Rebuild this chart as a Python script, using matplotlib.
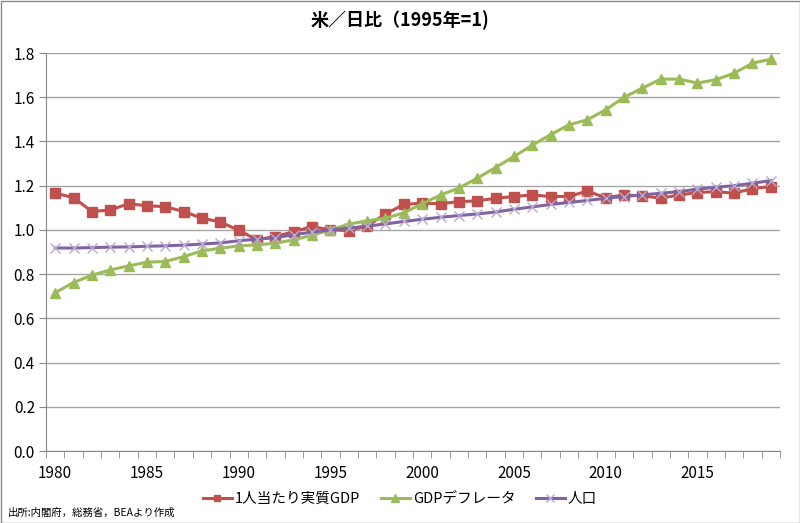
import matplotlib
matplotlib.use("Agg")
import matplotlib.pyplot as plt
from matplotlib.patches import Rectangle

plt.rcParams['font.family'] = ['Noto Sans CJK JP', 'DejaVu Sans']

years = list(range(1980, 2020))
gdp_pc = [1.166, 1.146, 1.083, 1.090, 1.118, 1.109, 1.105, 1.083, 1.053, 1.036,
          0.998, 0.955, 0.970, 0.992, 1.015, 1.000, 0.997, 1.018, 1.072, 1.115,
          1.121, 1.118, 1.128, 1.131, 1.143, 1.151, 1.158, 1.151, 1.151, 1.176,
          1.145, 1.158, 1.154, 1.143, 1.158, 1.169, 1.173, 1.166, 1.187, 1.196]
deflator = [0.716, 0.762, 0.795, 0.819, 0.837, 0.854, 0.857, 0.879, 0.905, 0.917,
            0.928, 0.932, 0.940, 0.955, 0.976, 1.000, 1.026, 1.041, 1.053, 1.077,
            1.118, 1.158, 1.189, 1.234, 1.282, 1.332, 1.383, 1.431, 1.475, 1.498,
            1.543, 1.600, 1.641, 1.682, 1.682, 1.664, 1.679, 1.709, 1.754, 1.772]
population = [0.918, 0.918, 0.920, 0.922, 0.923, 0.926, 0.928, 0.931, 0.936, 0.941,
              0.951, 0.958, 0.965, 0.978, 0.990, 1.000, 1.008, 1.017, 1.027, 1.038,
              1.048, 1.057, 1.065, 1.072, 1.081, 1.093, 1.104, 1.115, 1.124, 1.133,
              1.143, 1.151, 1.158, 1.166, 1.173, 1.184, 1.193, 1.200, 1.211, 1.223]
labels = ['1人当たり実質GDP', 'GDPデフレータ', '人口']
title = '米／日比（1995年=1)'
source = '出所:内閣府，総務省，BEAより作成'

fig = plt.figure(figsize=(8, 5.23), dpi=100)
ax = fig.add_axes([46/800, 1-451/523, (780-46)/800, (451-53)/523])

ax.plot(years, gdp_pc, color='#C0504D', lw=2.2, marker='s', ms=6.5,
        markerfacecolor='#C0504D', markeredgecolor='#C0504D', label=labels[0], zorder=3)
ax.plot(years, deflator, color='#9BBB59', lw=2.2, marker='^', ms=7.5,
        markerfacecolor='#9BBB59', markeredgecolor='#9BBB59', label=labels[1], zorder=3)
ax.plot(years, population, color='#8064A2', lw=2.2, marker='x', ms=7,
        markeredgecolor='#B9A8D0', markeredgewidth=1.0, label=labels[2], zorder=4)

ax.set_xlim(1979.5, 2019.5)
ax.set_ylim(0, 1.8)
ax.set_yticks([i * 0.2 for i in range(10)])
ax.set_yticklabels([f'{i*0.2:.1f}' for i in range(10)], fontsize=11)
ax.set_xticks([1980 + 5 * i for i in range(8)])
ax.set_xticklabels([str(1980 + 5 * i) for i in range(8)], fontsize=11)
ax.set_xticks([1979.5 + i for i in range(41)], minor=True)
ax.tick_params(axis='x', which='major', length=0, pad=10)
ax.tick_params(axis='x', which='minor', length=5, color='#888888', direction='out')
ax.tick_params(axis='y', length=5, color='#888888', direction='out', pad=3)
ax.grid(axis='y', color='#A6A6A6', lw=1.0)
for s in ['top', 'right']:
    ax.spines[s].set_visible(False)
for s in ['left', 'bottom']:
    ax.spines[s].set_color('#888888')
ax.set_axisbelow(True)

fig.text(0.5, 1-20/523, title, ha='center', va='center', fontsize=13, fontweight='bold')
fig.text(8/800, 1-513/523, source, ha='left', va='center', fontsize=7.5)

leg = fig.legend(loc='center', bbox_to_anchor=(0.5, 1-499/523), ncol=3, frameon=False,
                 fontsize=10.5, handlelength=2.0, columnspacing=1.4, handletextpad=0.2,
                 markerscale=0.75)

fig.patches.append(Rectangle((0.5/800, 0.5/523), 1-1/800, 1-1/523, transform=fig.transFigure,
                             fill=False, edgecolor='#888888', lw=1.0))

fig.savefig('out.png', dpi=100)
